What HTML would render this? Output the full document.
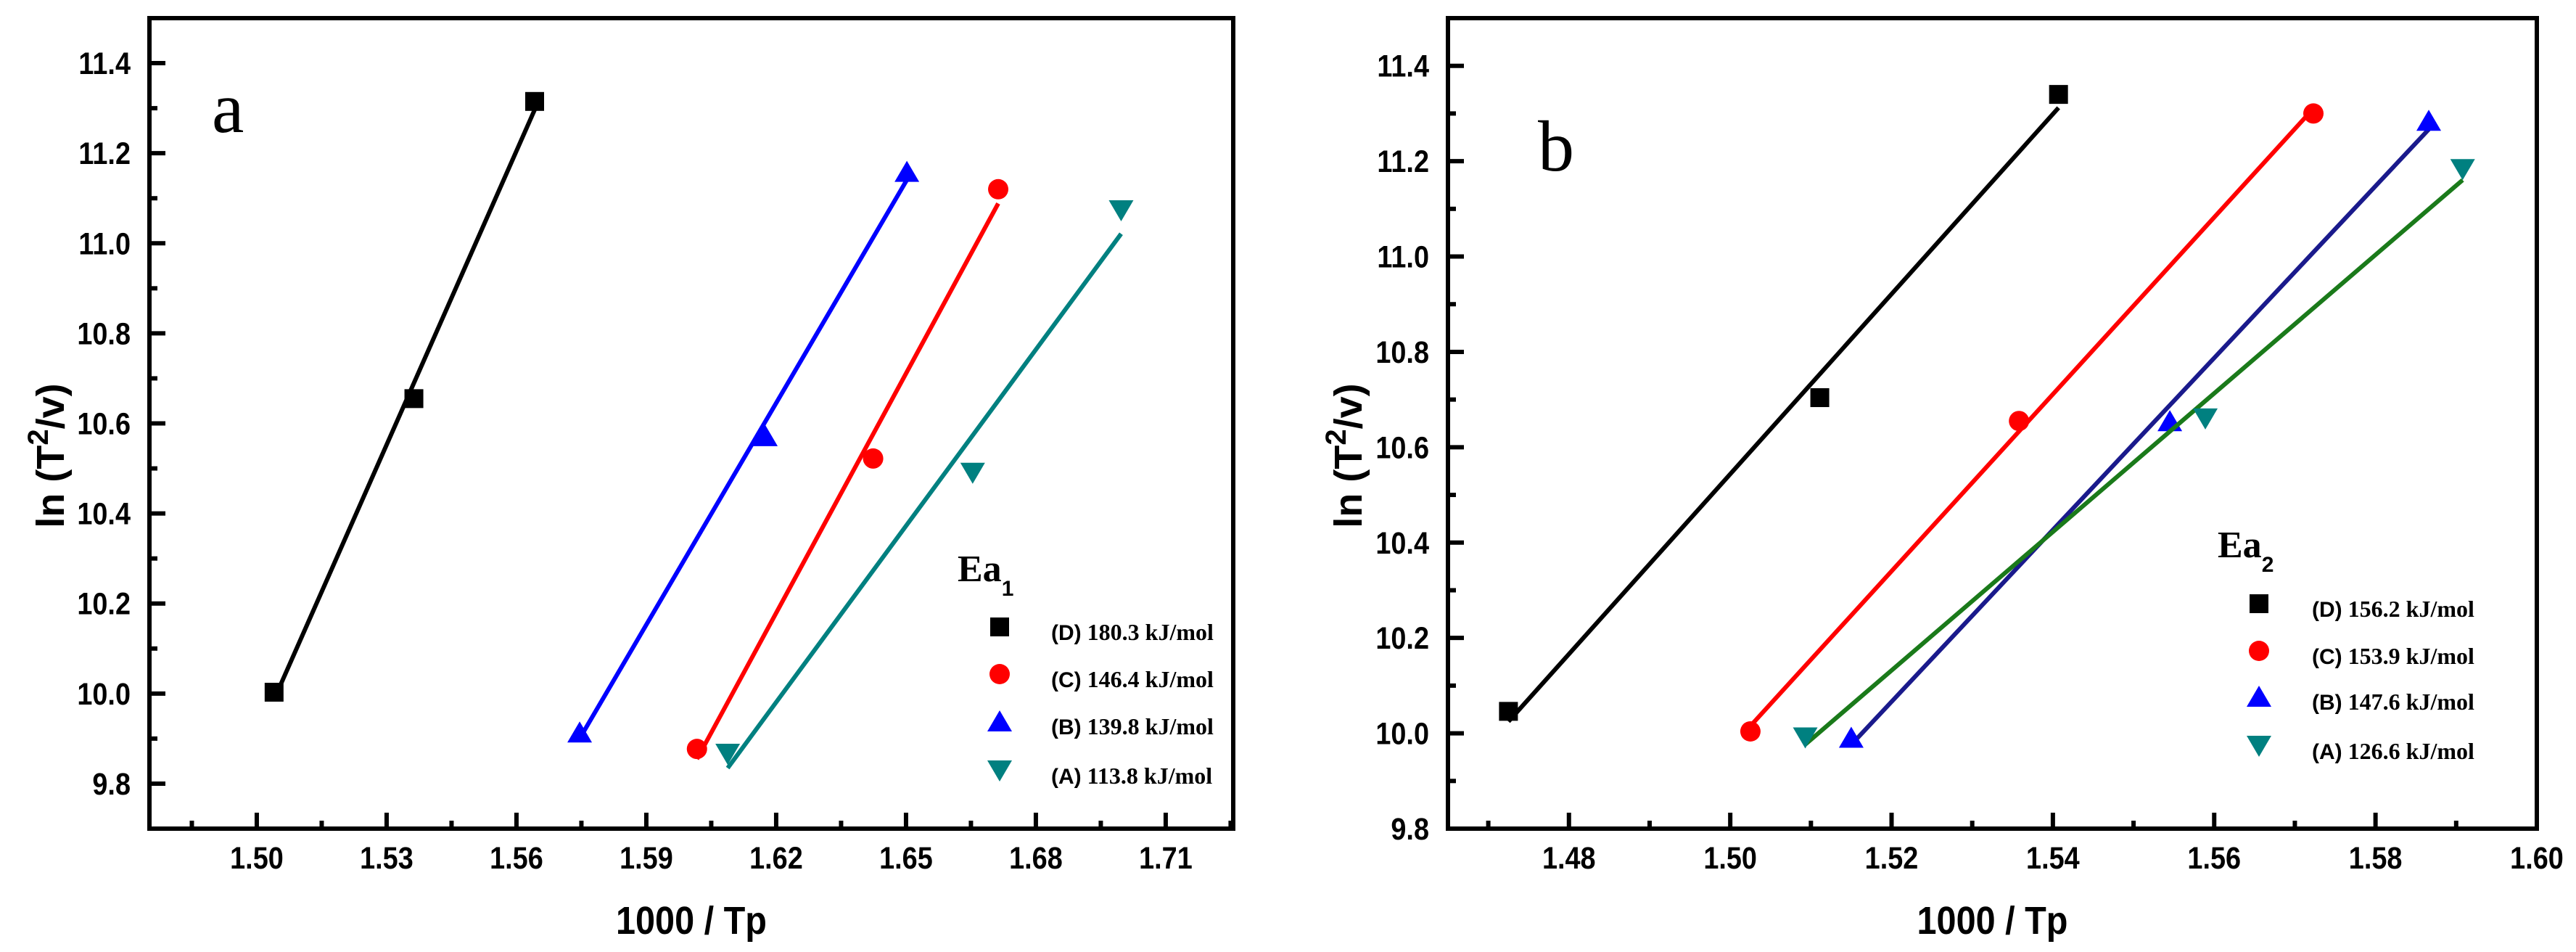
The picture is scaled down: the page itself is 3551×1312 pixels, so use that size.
<!DOCTYPE html>
<html><head><meta charset="utf-8"><style>
html,body{margin:0;padding:0;background:#fff;}
svg{display:block;}
</style></head><body>
<svg id="chart" width="3551" height="1312" viewBox="0 0 3551 1312" xmlns="http://www.w3.org/2000/svg"></svg>
<script>
// Panel a data
const aSeries = ["(D) 180.3 kJ/mol","(C) 146.4 kJ/mol","(B) 139.8 kJ/mol","(A) 113.8 kJ/mol"];
const aX_D = [1.5040, 1.5363, 1.5642];
const aY_D = [10.003, 10.655, 11.315];
const aX_C = [1.6017, 1.6424, 1.6713];
const aY_C = [9.877, 10.522, 11.120];
const aX_B = [1.5746, 1.6175, 1.6502];
const aY_B = [9.914, 10.572, 11.159];
const aX_A = [1.6088, 1.6654, 1.6997];
const aY_A = [9.866, 10.490, 11.073];
const aXTicks = [1.50, 1.53, 1.56, 1.59, 1.62, 1.65, 1.68, 1.71];
const aYTicks = [9.8, 10.0, 10.2, 10.4, 10.6, 10.8, 11.0, 11.2, 11.4];
// Panel b data
const bSeries = ["(D) 156.2 kJ/mol","(C) 153.9 kJ/mol","(B) 147.6 kJ/mol","(A) 126.6 kJ/mol"];
const bX_D = [1.4725, 1.5111, 1.5407];
const bY_D = [10.046, 10.704, 11.340];
const bX_C = [1.5025, 1.5358, 1.5723];
const bY_C = [10.004, 10.655, 11.300];
const bX_B = [1.5150, 1.5545, 1.5866];
const bY_B = [9.991, 10.655, 11.285];
const bX_A = [1.5093, 1.5589, 1.5908];
const bY_A = [9.991, 10.660, 11.183];
const bXTicks = [1.48, 1.50, 1.52, 1.54, 1.56, 1.58, 1.60];
const bYTicks = [9.8, 10.0, 10.2, 10.4, 10.6, 10.8, 11.0, 11.2, 11.4];

const NS = "http://www.w3.org/2000/svg";
const svg = document.getElementById('chart');
function mk(tag, attrs, parent){
  const e = document.createElementNS(NS, tag);
  for (const k in attrs) e.setAttribute(k, attrs[k]);
  (parent||svg).appendChild(e);
  return e;
}
function fit(xs, ys){
  const n=xs.length; let sx=0,sy=0,sxx=0,sxy=0;
  for(let i=0;i<n;i++){sx+=xs[i];sy+=ys[i];sxx+=xs[i]*xs[i];sxy+=xs[i]*ys[i];}
  const m=(n*sxy-sx*sy)/(n*sxx-sx*sx); return {m:m,b:(sy-m*sx)/n};
}
function marker(g, type, cx, cy, color, s){
  let e;
  if(type==='sq') e = mk('rect',{x:cx-s/2,y:cy-s/2,width:s,height:s,fill:color},g);
  else if(type==='ci') e = mk('circle',{cx:cx,cy:cy,r:s/2+1,fill:color},g);
  else if(type==='up') e = mk('polygon',{points:`${cx-17},${cy+14} ${cx+17},${cy+14} ${cx},${cy-15}`,fill:color},g);
  else e = mk('polygon',{points:`${cx-17},${cy-14} ${cx+17},${cy-14} ${cx},${cy+15}`,fill:color},g);
  return e;
}

function panel(cfg){
  const g = mk('g',{});
  
  
  const L=cfg.L,R=cfg.R,T=25,B=1142;
  const sx = v => L + (v-cfg.x0)/(cfg.x1-cfg.x0)*(R-L);
  const sy = v => B - (v-cfg.y0)/(cfg.y1-cfg.y0)*(B-T);
  const fr = mk('rect',{x:L,y:T,width:R-L,height:B-T,fill:'none',stroke:'#000','stroke-width':6},g);
  
  
  cfg.xt.forEach((v,i)=>{
    const x=sx(v);
    const t = mk('line',{x1:x,x2:x,y1:B,y2:B-22,stroke:'#000','stroke-width':6},g);
    
    
    const lb = mk('text',{x:x/0.88,y:1197,'text-anchor':'middle','font-family':'Liberation Sans, sans-serif','font-weight':'bold','font-size':43,transform:'scale(0.88,1)'},g);
    lb.textContent = v.toFixed(2);
    
    
  });
  const step = cfg.xt[1]-cfg.xt[0];
  for(let v=cfg.xt[0]-step/2; v<cfg.x1; v+=step){
    if(v<=cfg.x0+1e-6) continue;
    const x=sx(v);
    const t = mk('line',{x1:x,x2:x,y1:B,y2:B-11,stroke:'#000','stroke-width':6},g);
    
    
  }
  cfg.yt.forEach(v=>{
    const y=sy(v);
    const t = mk('line',{x1:L,x2:L+22,y1:y,y2:y,stroke:'#000','stroke-width':6},g);
    
    
    const lb = mk('text',{x:(L-26)/0.88,y:y+15,'text-anchor':'end','font-family':'Liberation Sans, sans-serif','font-weight':'bold','font-size':43,transform:'scale(0.88,1)'},g);
    lb.textContent = v.toFixed(1);
    
    
  });
  for(let v=cfg.yt[0]+0.1; v<cfg.y1-1e-6; v+=0.2){
    const y=sy(v);
    const t = mk('line',{x1:L,x2:L+11,y1:y,y2:y,stroke:'#000','stroke-width':6},g);
    
    
  }
  const xt = mk('text',{x:((L+R)/2)/0.9,y:1287,'text-anchor':'middle','font-family':'Liberation Sans, sans-serif','font-weight':'bold','font-size':54,transform:'scale(0.9,1)'},g);
  xt.textContent='1000 / Tp';
  
  
  const yt = mk('text',{x:0,y:0,'text-anchor':'middle','font-family':'Liberation Sans, sans-serif','font-weight':'bold','font-size':54,transform:`translate(${cfg.ytx},628) rotate(-90)`},g);
  yt.innerHTML = 'ln (T<tspan dy="-22" font-size="40">2</tspan><tspan dy="22">/v)</tspan>';
  
  
  const pl = mk('text',{x:cfg.lblX,y:cfg.lblY,'font-family':'Liberation Serif, serif','font-size':100},g);
  pl.textContent = cfg.letter;
  
  
  cfg.series.forEach((s,i)=>{
    const f = fit(s.x,s.y);
    const xa = Math.min(...s.x), xb = Math.max(...s.x);
    const ln = mk('line',{x1:sx(xa),y1:sy(f.m*xa+f.b),x2:sx(xb),y2:sy(f.m*xb+f.b),stroke:s.lc,'stroke-width':6},g);
    
    
    for(let k=0;k<s.x.length;k++){
      const m = marker(g, s.t, sx(s.x[k]), sy(s.y[k]), s.c, 26);
      
      
    }
    const ry = cfg.legY[i];
    const lm = marker(g, s.t, cfg.legMX, ry, s.c, 26);
    
    
    const lab = cfg.labels[i];
    const p = lab.indexOf(')')+1;
    const lt = mk('text',{x:cfg.legTX,y:ry+18,'font-size':32,'font-weight':'bold','font-family':'Liberation Serif, serif'},g);
    lt.innerHTML = '<tspan font-family="Liberation Sans, sans-serif" font-size="30">'+lab.slice(0,p)+'</tspan>'+lab.slice(p);
    
    
  });
  const ea = mk('text',{x:cfg.eaX,y:cfg.eaY,'font-family':'Liberation Serif, serif','font-weight':'bold','font-size':52},g);
  ea.innerHTML = 'Ea<tspan dy="20" font-family="Liberation Sans, sans-serif" font-size="30">'+cfg.sub+'</tspan>';
  
  
}

panel({name:'panel-a',L:206,R:1700,x0:1.4752,x1:1.7256,y0:9.7,y1:11.5,xt:aXTicks,yt:aYTicks,ytx:88,
  letter:'a',lblX:292,lblY:182,labels:aSeries,sub:'1',eaX:1320,eaY:801,legMX:1378,legTX:1449,legY:[864,929,994,1062],
  series:[
    {id:'d',x:aX_D,y:aY_D,c:'#000',lc:'#000',t:'sq'},
    {id:'c',x:aX_C,y:aY_C,c:'#ff0000',lc:'#ff0000',t:'ci'},
    {id:'b',x:aX_B,y:aY_B,c:'#0000ff',lc:'#0000ff',t:'up'},
    {id:'a',x:aX_A,y:aY_A,c:'#008080',lc:'#008080',t:'dn'}]});
panel({name:'panel-b',L:1996,R:3497,x0:1.465,x1:1.60,y0:9.8,y1:11.5,xt:bXTicks,yt:bYTicks,ytx:1877,
  letter:'b',lblX:2120,lblY:235,labels:bSeries,sub:'2',eaX:3057,eaY:768,legMX:3114,legTX:3187,legY:[832,897,960,1028],
  series:[
    {id:'d',x:bX_D,y:bY_D,c:'#000',lc:'#000',t:'sq'},
    {id:'c',x:bX_C,y:bY_C,c:'#ff0000',lc:'#ff0000',t:'ci'},
    {id:'b',x:bX_B,y:bY_B,c:'#0000ff',lc:'#1a1a8c',t:'up'},
    {id:'a',x:bX_A,y:bY_A,c:'#008080',lc:'#1a7a1a',t:'dn'}]});
</script>
</body></html>
